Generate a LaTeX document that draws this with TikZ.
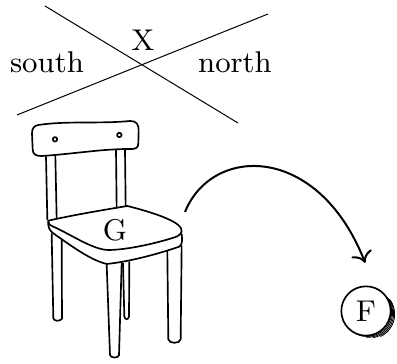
\documentclass[tikz,border=0pt]{standalone}
\usetikzlibrary{arrows.meta}
\begin{document}
\begin{tikzpicture}[x=0.3pt,y=-0.3pt,font=\fontsize{9}{11}\selectfont,
    cross line/.style={line width=0.3pt},
    chair/.style={line width=0.5pt,line join=round,line cap=round},
    sketch/.style={line width=0.25pt},
    bend arrow/.style={line width=0.6pt,-{To[length=3.2pt,width=6.5pt]},shorten >=7.8pt}]
  \useasboundingbox (0,0) rectangle (397,364);
  \draw
    (45,6) coordinate (a1)
    (238,123) coordinate (a2)
    (17,115) coordinate (b1)
    (268,14) coordinate (b2)
    (143,40) node (X){X}
    (47,62) node (south){south}
    (235,62) node (north){north}
    (115,230) node (G){G}
    (185,212) coordinate (chair)
    (366,311) node[circle,draw,line width=0.5pt,minimum size=14.8pt,inner sep=0pt] (F){F};
  \begin{scope}[cross line]
    \draw (a1) -- (a2);
    \draw (b1) -- (b2);
  \end{scope}
  % chair
  \begin{scope}[shift={(10,110)},scale=1/3,chair]
    \draw (85,45) .. controls (170,32) and (270,42) .. (360,33)
      .. controls (380,32) and (386,45) .. (386,60) -- (385,100)
      .. controls (385,112) and (378,117) .. (365,117)
      .. controls (280,116) and (190,132) .. (95,138)
      .. controls (78,139) and (68,132) .. (68,118) -- (66,70)
      .. controls (66,55) and (72,47) .. (85,45) -- cycle;
    \draw (135,88) circle[radius=2pt];
    \draw (328,75) circle[radius=2pt];
    \draw (108,140) -- (112,328);
    \draw (136,137) -- (140,325);
    \draw (318,120) -- (320,294);
    \draw (345,118) -- (347,289);
    \draw (115,332) .. controls (190,315) and (280,300) .. (352,288)
      .. controls (420,305) and (480,325) .. (505,345)
      .. controls (520,358) and (518,372) .. (500,380)
      .. controls (440,400) and (350,420) .. (295,420)
      .. controls (250,420) and (180,372) .. (130,350)
      .. controls (118,345) and (113,340) .. (115,332) -- cycle;
    \draw (115,332) .. controls (113,350) and (118,362) .. (130,370)
      .. controls (180,405) and (240,450) .. (290,462)
      .. controls (360,455) and (450,430) .. (508,410)
      .. controls (516,405) and (518,392) .. (515,372);
    \draw (125,372) -- (130,625) .. controls (131,635) and (152,634) .. (156,626) -- (155,390);
    \draw (290,462) -- (300,735) .. controls (302,745) and (324,745) .. (327,736) -- (335,460);
    \draw (339,460) -- (343,620) .. controls (345,630) and (355,630) .. (357,620) -- (358,456);
    \draw (472,425) -- (475,688) .. controls (477,702) and (510,702) .. (512,688) -- (515,408);
  \end{scope}
  \foreach \d/\s in {1/-110,2/-95,3/-80,4/-65}
    \draw[sketch] ([shift={(\d,\d*0.8)}]F.center) ++(\s:7.4pt) arc[start angle=\s,end angle=35,radius=7.4pt];
  \draw[bend arrow] (chair) .. controls (212,145) and (318,143) .. (F.70);
\end{tikzpicture}
\end{document}
